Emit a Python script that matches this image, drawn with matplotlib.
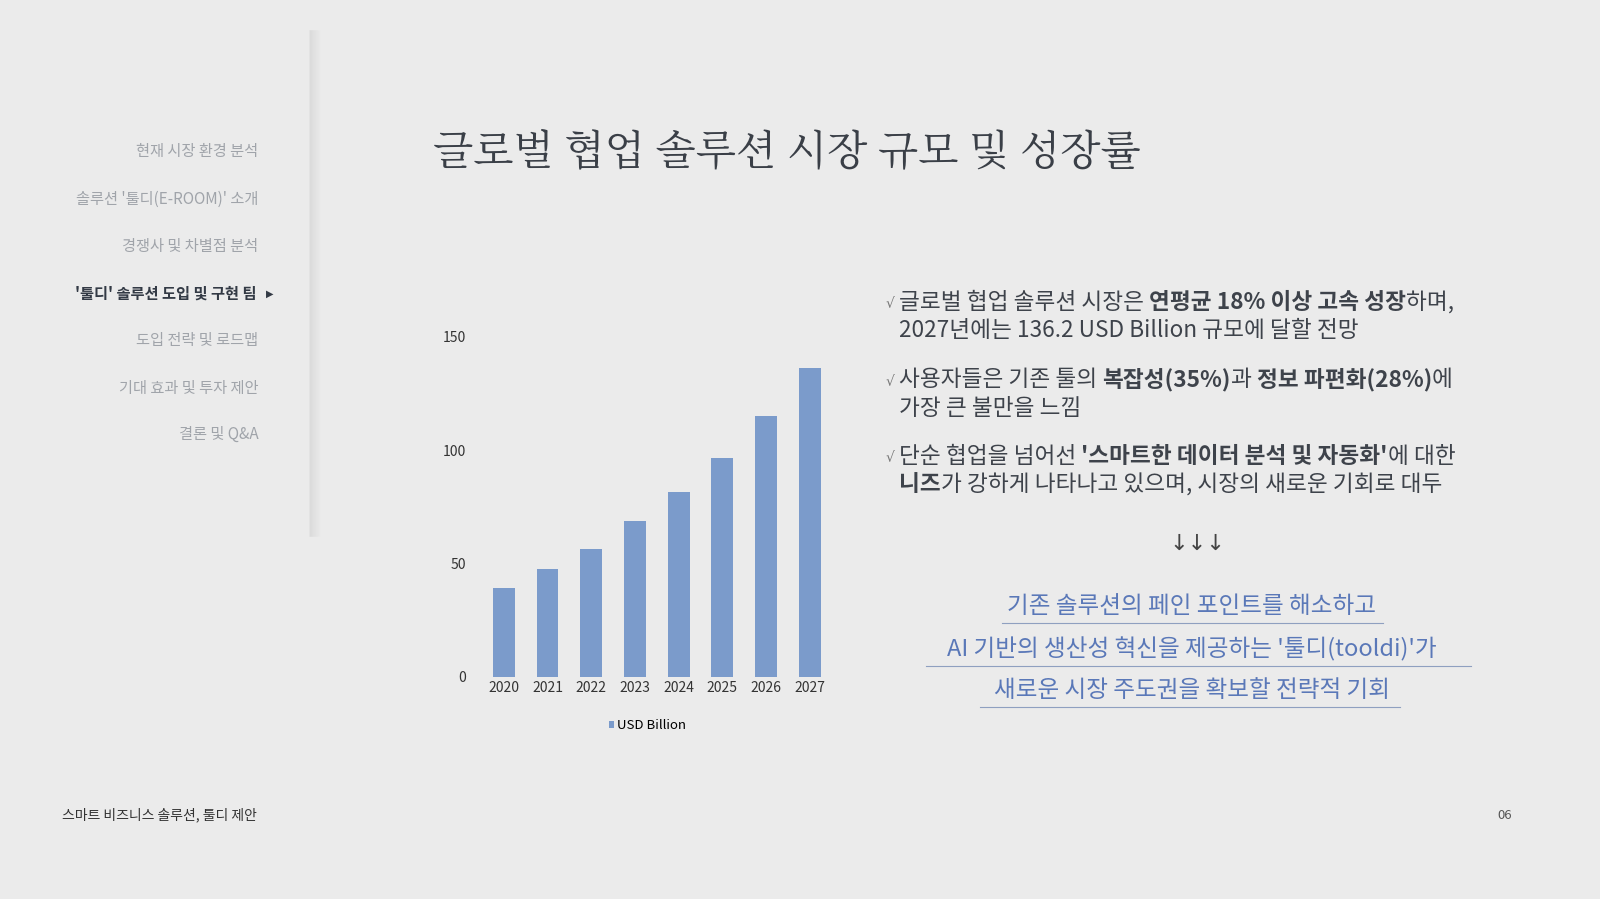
import matplotlib
matplotlib.use("Agg")
import matplotlib.pyplot as plt
import numpy as np

plt.rcParams['font.family'] = ['Noto Sans CJK KR', 'DejaVu Sans']

years = ["2020", "2021", "2022", "2023", "2024", "2025", "2026", "2027"]
market = [39.2, 47.3, 56.3, 68.5, 81.5, 96.4, 114.9, 136.2]
menu = ["현재 시장 환경 분석", "솔루션 '툴디(E-ROOM)' 소개", "경쟁사 및 차별점 분석",
        "'툴디' 솔루션 도입 및 구현 팀", "도입 전략 및 로드맵", "기대 효과 및 투자 제안", "결론 및 Q&A"]
menu_y = [148, 195, 242, 288, 334, 381, 426]
active = 3

bullets = [
    [[("글로벌 협업 솔루션 시장은 ", False), ("연평균 18% 이상 고속 성장", True), ("하며,", False)],
     [("2027년에는 136.2 USD Billion 규모에 달할 전망", False)]],
    [[("사용자들은 기존 툴의 ", False), ("복잡성(35%)", True), ("과 ", False), ("정보 파편화(28%)", True), ("에", False)],
     [("가장 큰 불만을 느낌", False)]],
    [[("단순 협업을 넘어선 ", False), ("'스마트한 데이터 분석 및 자동화'", True), ("에 대한", False)],
     [("니즈", True), ("가 강하게 나타나고 있으며, 시장의 새로운 기회로 대두", False)]],
]
bullet_y = [296, 372, 447]
hand = ["기존 솔루션의 페인 포인트를 해소하고", "AI 기반의 생산성 혁신을 제공하는 '툴디(tooldi)'가", "새로운 시장 주도권을 확보할 전략적 기회"]
hand_y = [594, 636, 677]

W, H = 1568, 881
fig = plt.figure(figsize=(16, 8.99), dpi=100)
fig.patch.set_facecolor("#ebebeb")
bg = fig.add_axes([0, 0, 1, 1])
bg.set_xlim(0, W)
bg.set_ylim(H, 0)
bg.axis("off")

# sidebar shadow
for i, a in enumerate(np.linspace(0.04, 0.0, 12)):
    bg.plot([304 + i, 304 + i], [30, 525], color="black", alpha=a, lw=1.2)

for i, (t, y) in enumerate(zip(menu, menu_y)):
    if i == active:
        bg.text(255, y, t + " ", ha="right", va="center", fontsize=11, weight="bold", color="#333a45")
        bg.text(264, y, "▶", ha="center", va="center", fontsize=7, color="#333a45", family="DejaVu Sans")
    else:
        bg.text(253, y, t, ha="right", va="center", fontsize=11, color="#a0a4aa")

bg.text(61, 799, "스마트 비즈니스 솔루션, 툴디 제안", ha="left", va="center", fontsize=10, color="#333")
bg.text(1482, 799, "06", ha="right", va="center", fontsize=9.5, color="#555")

bg.text(424, 150, "글로벌 협업 솔루션 시장 규모 및 성장률", ha="left", va="center",
        fontsize=30, color="#3a3f47", family=["Noto Serif CJK KR", "Noto Sans CJK KR"])

fig.canvas.draw()
r = fig.canvas.get_renderer()
sx = W / 1600.0

def runs(x, y, parts, size=16.3):
    for s, b in parts:
        t = bg.text(x, y, s, ha="left", va="center", fontsize=size, color="#3e434b",
                    weight="bold" if b else "normal")
        ext = t.get_window_extent(renderer=r)
        x += ext.width * sx

for lines, y in zip(bullets, bullet_y):
    bg.text(868, y + 2, "√", ha="left", va="center", fontsize=10, color="#777", family="DejaVu Sans")
    runs(881, y, lines[0])
    runs(881, y + 28, lines[1])

bg.text(1173, 533, "↓↓↓", ha="center", va="center", fontsize=16, color="#444", family="DejaVu Sans")
for t, y in zip(hand, hand_y):
    bg.text(1168, y, t, ha="center", va="center", fontsize=17, color="#5a78b8")
bg.plot([982, 1355], [611, 611], color="#8fa0c0", lw=0.8)
bg.plot([907, 1442], [653, 653], color="#8fa0c0", lw=0.8)
bg.plot([960, 1372], [693, 693], color="#8fa0c0", lw=0.8)

ax = fig.add_axes([468 / W, 1 - 663 / H, 347 / W, 333 / H])
ax.patch.set_alpha(0)
x = np.arange(len(years))
ax.bar(x, market, width=0.5, color="#7b9bcb", label="USD Billion")
ax.set_ylim(0, 150)
ax.set_yticks([0, 50, 100, 150])
ax.set_xticks(x)
ax.set_xticklabels(years)
ax.set_xlim(-0.6, 7.5)
ax.tick_params(length=0, labelsize=10, colors="#333")
ax.tick_params(axis="y", pad=8)
for s in ax.spines.values():
    s.set_visible(False)
ax.legend(loc="upper center", bbox_to_anchor=(0.48, -0.09), frameon=False, fontsize=9.5,
          handlelength=0.4, handleheight=0.4, handletextpad=0.2)

fig.savefig("out.png", dpi=100, facecolor=fig.get_facecolor())
